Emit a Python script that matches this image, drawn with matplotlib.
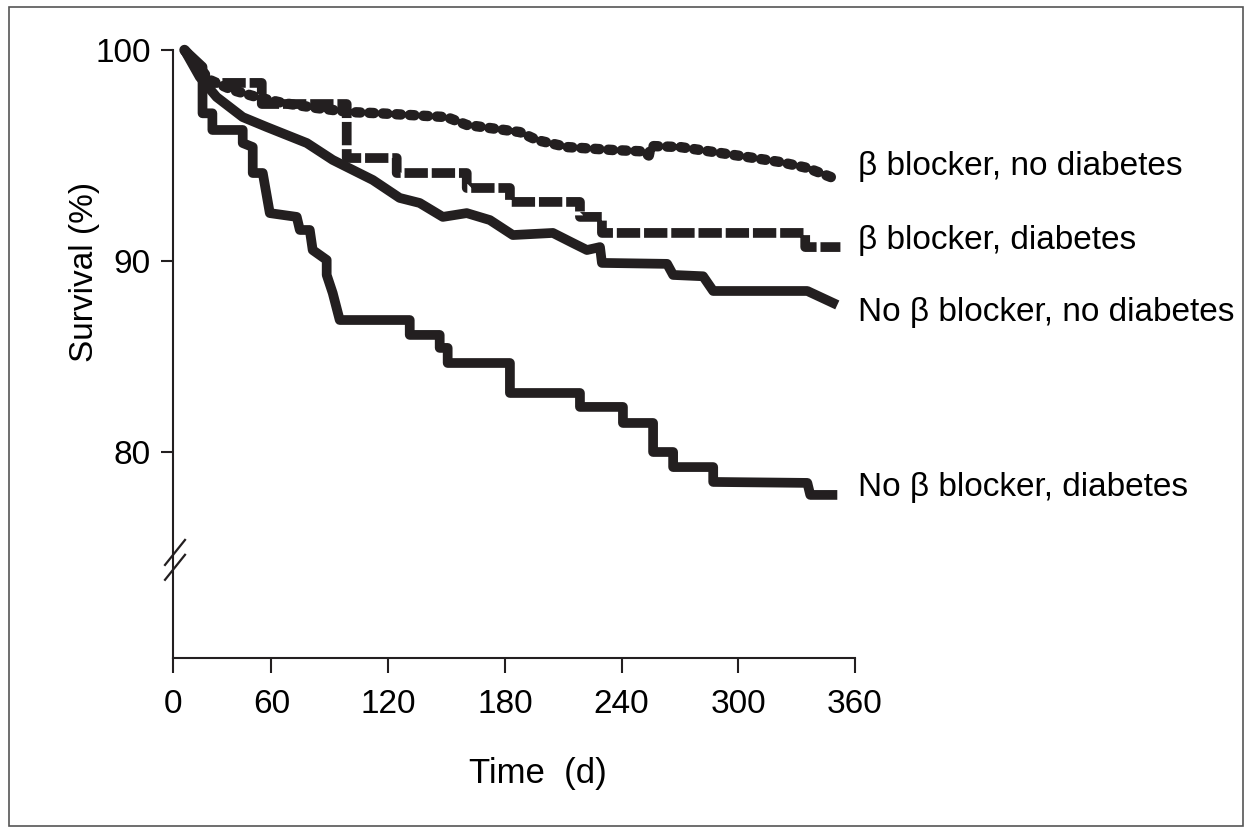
import numpy as np
import matplotlib
matplotlib.use("Agg")
import matplotlib.pyplot as plt
from matplotlib.patches import Rectangle

plt.rcParams['font.family'] = ['Liberation Sans', 'DejaVu Sans']

INK = "#231f20"

# survival curves: (day, survival %)
bb_nodm_days = [7, 22.4, 36.4, 51, 65.8, 83.3, 100.2, 115.7, 150.1, 160.4, 187.7,
                196.5, 211.9, 235.6, 250, 254, 255, 270.1, 287.1, 304.6, 321.6,
                335.5, 348.9]
bb_nodm_surv = [100, 98.58, 98.10, 97.77, 97.49, 97.25, 97.06, 97.0, 96.82, 96.45,
                96.11, 95.73, 95.40, 95.26, 95.2, 95.0, 95.45, 95.40, 95.17, 94.93,
                94.69, 94.41, 93.93]

bb_dm_days = [7, 16, 22, 54.1, 54.1, 98.7, 98.7, 124.4, 124.4, 160.4, 160.4,
              182.6, 182.6, 218.6, 218.6, 229.9, 229.9, 334.4, 334.4, 352.5]
bb_dm_surv = [100, 99.0, 98.44, 98.44, 97.44, 97.44, 94.88, 94.88, 94.17, 94.17,
              93.46, 93.46, 92.80, 92.80, 92.09, 92.09, 91.33, 91.33, 90.66, 90.66]

nobb_nodm_days = [7, 16.3, 26.6, 42.5, 57.1, 78.2, 91.5, 112.1, 125.9, 136.2, 148.1,
                  160.4, 172.3, 184.1, 204.7, 215, 222.2, 228.9, 229.9, 263.4, 266.5,
                  281.9, 287.1, 335.5, 350.9]
nobb_nodm_surv = [100, 98.72, 97.77, 96.82, 96.35, 95.59, 94.79, 93.84, 92.99, 92.75,
                  92.09, 92.27, 91.94, 91.23, 91.33, 90.85, 90.52, 90.66, 89.90, 89.85,
                  89.27, 89.2, 88.43, 88.43, 87.7]

nobb_dm_days = [7, 18, 18, 24, 24, 42.5, 42.5, 48.6, 48.6, 54.7, 59, 73, 74.6, 79.7,
                81.2, 88.4, 88.4, 91.5, 95.1, 131.1, 131.1, 146.5, 146.5, 150.6, 150.6,
                182.6, 182.6, 218.6, 218.6, 240.7, 240.7, 256.2, 256.2, 266.5, 266.5,
                287.1, 287.1, 335.5, 337, 350.9]
nobb_dm_surv = [100, 99.2, 97.0, 97.0, 96.21, 96.21, 95.59, 95.40, 94.17, 94.17, 92.27,
                92.09, 91.47, 91.47, 90.52, 90.05, 89.27, 88.32, 86.91, 86.91, 86.13,
                86.13, 85.45, 85.45, 84.66, 84.66, 83.09, 83.09, 82.36, 82.36, 81.52,
                81.52, 80.0, 80.0, 79.21, 79.21, 78.43, 78.38, 77.75, 77.75]

series_labels = ["\u03b2 blocker, no diabetes", "\u03b2 blocker, diabetes",
                 "No \u03b2 blocker, no diabetes", "No \u03b2 blocker, diabetes"]
label_y = [0.8076, 0.6875, 0.569, 0.281]   # axes fraction

x_ticks = [0, 60, 120, 180, 240, 300, 360]
y_ticks = [80, 90, 100]

# the printed axes are not evenly spaced: piecewise linear scales
X_KNOTS = [0, 60, 360]
X_POS = [0, 98.4, 681.7]
Y_KNOTS = [69.2, 80, 90, 100]
Y_POS = [0, 206, 397, 608]

fig = plt.figure(figsize=(12.52, 8.30), dpi=100)
ax = fig.add_axes([173 / 1252, 1 - 658 / 830, 682 / 1252, 608 / 830])

ax.set_xscale("function", functions=(lambda v: np.interp(v, X_KNOTS, X_POS),
                                     lambda p: np.interp(p, X_POS, X_KNOTS)))
ax.set_yscale("function", functions=(lambda v: np.interp(v, Y_KNOTS, Y_POS),
                                     lambda p: np.interp(p, Y_POS, Y_KNOTS)))

lw = 7
ax.plot(nobb_dm_days, nobb_dm_surv, color=INK, lw=lw, solid_joinstyle="round",
        solid_capstyle="butt", clip_on=False)
ax.plot(nobb_nodm_days, nobb_nodm_surv, color=INK, lw=lw, solid_joinstyle="round",
        solid_capstyle="butt", clip_on=False)
ax.plot(bb_dm_days, bb_dm_surv, color=INK, lw=lw, linestyle=(0, (2.4, 0.4)),
        dash_capstyle="butt", dash_joinstyle="round", clip_on=False)
ax.plot(bb_nodm_days, bb_nodm_surv, color=INK, lw=lw + 0.5, linestyle=(0, (0.45, 0.85)),
        dash_capstyle="round", clip_on=False)

ax.set_xlim(0, 360)
ax.set_ylim(69.2, 100)
ax.set_xticks(x_ticks)
ax.set_yticks(y_ticks)
ax.minorticks_off()
ax.tick_params(axis="both", colors=INK, width=1.5, length=9, labelcolor="black")
ax.tick_params(axis="x", labelsize=24, pad=11, length=11)
ax.tick_params(axis="y", labelsize=24, pad=7)

for side in ["top", "right"]:
    ax.spines[side].set_visible(False)
for side in ["left", "bottom"]:
    ax.spines[side].set_linewidth(1.5)
    ax.spines[side].set_color(INK)

# axis break marks
brk = ax.get_yaxis_transform()
ax.plot([-0.0117, 0.0176], [74.08, 75.39], color=INK, lw=1.6, transform=brk, clip_on=False)
ax.plot([-0.0117, 0.0176], [73.30, 74.61], color=INK, lw=1.6, transform=brk, clip_on=False)

for text, yy in zip(series_labels, label_y):
    ax.text(1.004, yy, text, transform=ax.transAxes, ha="left", va="center",
            fontsize=24, color="black")

fig.text(538 / 1252, 1 - 773 / 830, "Time  (d)", ha="center", va="center", fontsize=25)
fig.text(85 / 1252, 1 - 272 / 830, "Survival (%)", ha="center", va="center",
         fontsize=24, rotation=90)

# frame around the whole figure
fig.patches.append(Rectangle((9 / 1252, 4 / 830), 1234 / 1252, 819 / 830,
                             transform=fig.transFigure, fill=False,
                             edgecolor="#555555", lw=1.2))

fig.savefig("out.png", dpi=100)
